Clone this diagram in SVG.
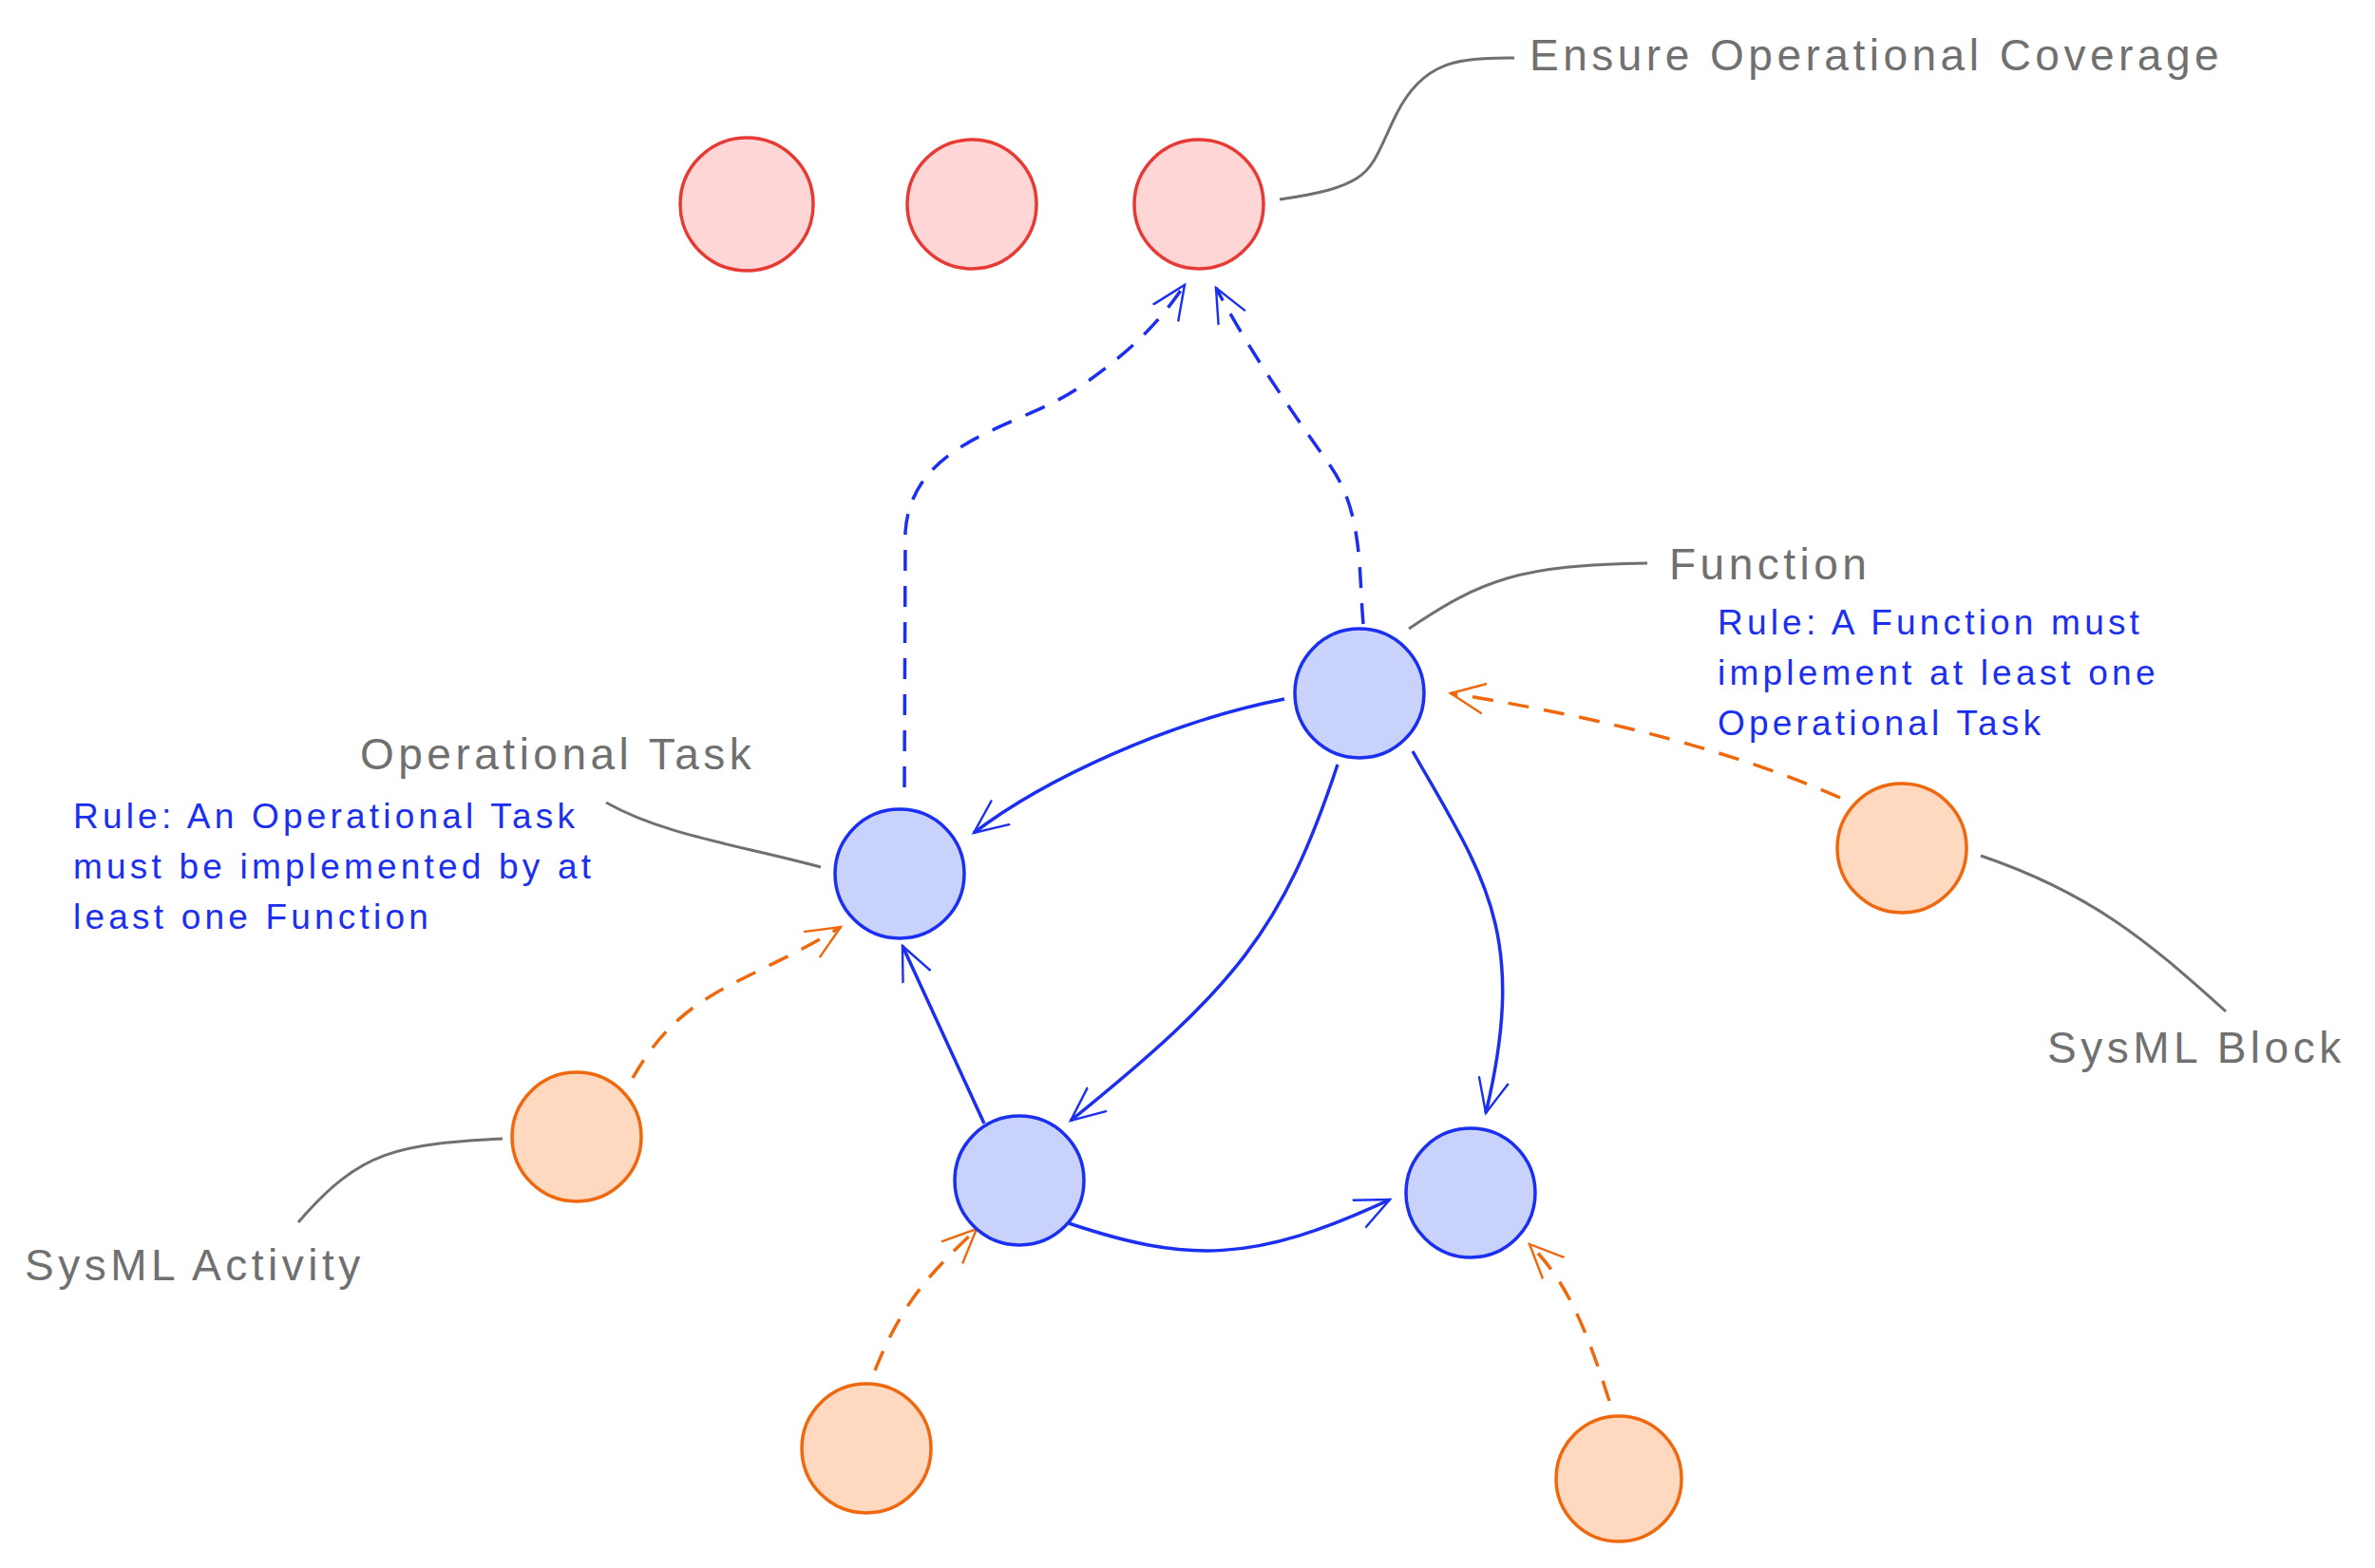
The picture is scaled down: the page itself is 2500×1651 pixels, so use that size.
<svg xmlns="http://www.w3.org/2000/svg" width="2500" height="1651" viewBox="0 0 2500 1651">
<style>
.red{fill:#ffd6d6;stroke:#e83a35;stroke-width:3.5}
.blue{fill:#c8d2fb;stroke:#1b2ff0;stroke-width:3.5}
.org{fill:#ffd8c0;stroke:#f0680e;stroke-width:3.5}
.lab{font-family:"Liberation Sans",sans-serif;font-size:46px;fill:#707070;letter-spacing:4.5px}
.rule{font-family:"Liberation Sans",sans-serif;font-size:37px;fill:#1b2ff0;letter-spacing:4.2px}
.gl{fill:none;stroke:#707070;stroke-width:3}
.bs{fill:none;stroke:#1b2ff0;stroke-width:3.5}
.bd{fill:none;stroke:#1b2ff0;stroke-width:3.5;stroke-dasharray:22 16}
.od{fill:none;stroke:#f0680e;stroke-width:3.5;stroke-dasharray:22 16}
</style>
<defs>
<marker id="abL" viewBox="0 0 20 20" refX="18" refY="10" markerWidth="40" markerHeight="40" markerUnits="userSpaceOnUse" orient="auto"><path d="M0 2 L18 10 L0 18" fill="none" stroke="#1b2ff0" stroke-width="1.2"/></marker>
<marker id="aoL" viewBox="0 0 20 20" refX="18" refY="10" markerWidth="40" markerHeight="40" markerUnits="userSpaceOnUse" orient="auto"><path d="M0 2 L18 10 L0 18" fill="none" stroke="#f0680e" stroke-width="1.2"/></marker>
</defs>
<g id="connectors">
<path class="gl" d="M1347 210 C1450 195 1440 180 1470 120 C1500 60 1540 62 1594 61"/>
<path class="gl" d="M1483 662 C1560 610 1600 595 1734 593"/>
<path class="gl" d="M864 913 C780 890 700 880 638 845"/>
<path class="gl" d="M529 1199 C420 1205 380 1210 314 1287"/>
<path class="gl" d="M2085 901 C2200 940 2260 990 2343 1065"/>
<path class="bd" marker-end="url(#abL)" d="M952 829 L953 560 C960 460 1080 450 1140 405 C1190 370 1220 340 1247 300"/>
<path class="bd" marker-end="url(#abL)" d="M1435 657 C1430 600 1435 540 1400 490 C1350 420 1310 360 1280 303"/>
<path class="bs" marker-end="url(#abL)" d="M1352 736 C1230 760 1100 820 1025 877"/>
<path class="bs" marker-end="url(#abL)" d="M1408 805 C1350 980 1300 1040 1127 1180"/>
<path class="bs" marker-end="url(#abL)" d="M1487 791 C1560 920 1610 980 1564 1172"/>
<path class="bs" marker-end="url(#abL)" d="M1036 1183 L950 996"/>
<path class="bs" marker-end="url(#abL)" d="M1125 1288 C1250 1330 1320 1330 1463 1263"/>
<path class="od" marker-end="url(#aoL)" d="M1937 840 C1800 780 1650 750 1527 730"/>
<path class="od" marker-end="url(#aoL)" d="M666 1135 C720 1040 780 1040 885 976"/>
<path class="od" marker-end="url(#aoL)" d="M921 1443 C950 1370 980 1340 1028 1294"/>
<path class="od" marker-end="url(#aoL)" d="M1694 1475 C1670 1400 1650 1350 1610 1310"/>
</g>
<g id="r1"><circle class="red" cx="786" cy="215" r="70"/></g>
<g id="r2"><circle class="red" cx="1023" cy="215" r="68"/></g>
<g id="r3"><circle class="red" cx="1262" cy="215" r="68"/></g>
<g id="function"><circle class="blue" cx="1431" cy="730" r="68"/></g>
<g id="optask"><circle class="blue" cx="947" cy="920" r="68"/></g>
<g id="b1"><circle class="blue" cx="1073" cy="1243" r="68"/></g>
<g id="b2"><circle class="blue" cx="1548" cy="1256" r="68"/></g>
<g id="o1"><circle class="org" cx="2002" cy="893" r="68"/></g>
<g id="o2"><circle class="org" cx="607" cy="1197" r="68"/></g>
<g id="o3"><circle class="org" cx="912" cy="1525" r="68"/></g>
<g id="o4"><circle class="org" cx="1704" cy="1557" r="66"/></g>
<g id="labels">
<text class="lab" x="1610" y="74">Ensure Operational Coverage</text>
<text class="lab" x="1757" y="610">Function</text>
<text class="lab" x="379" y="810">Operational Task</text>
<text class="lab" x="26" y="1348">SysML Activity</text>
<text class="lab" x="2155" y="1119">SysML Block</text>
<text class="rule" x="1808" y="668">Rule: A Function must</text>
<text class="rule" x="1808" y="721">implement at least one</text>
<text class="rule" x="1808" y="774">Operational Task</text>
<text class="rule" x="77" y="872">Rule: An Operational Task</text>
<text class="rule" x="77" y="925">must be implemented by at</text>
<text class="rule" x="77" y="978">least one Function</text>
</g>
</svg>
